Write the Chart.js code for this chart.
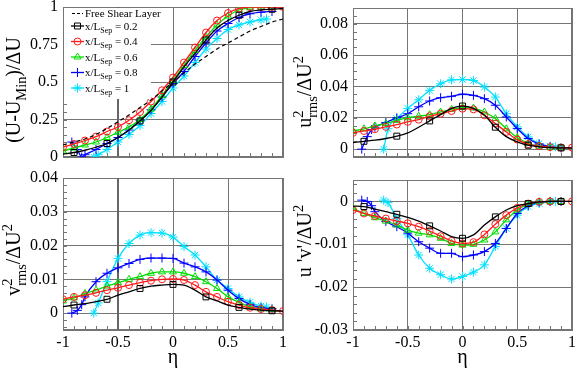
<!DOCTYPE html>
<html>
<head>
<meta charset="utf-8">
<script src="https://cdn.jsdelivr.net/npm/chart.js@4/dist/chart.umd.min.js"></script>
<style>
body { margin: 0; background: #fff; }
#wrap { position: relative; width: 581px; height: 368px; }
canvas { position: absolute; }
</style>
</head>
<body>
<div id="wrap">
  <canvas id="cU" width="290" height="170" style="left:0;top:0"></canvas>
  <canvas id="cUU" width="291" height="170" style="left:290px;top:0"></canvas>
  <canvas id="cVV" width="290" height="198" style="left:0;top:170px"></canvas>
  <canvas id="cUV" width="291" height="198" style="left:290px;top:170px"></canvas>
</div>
<script>
// eta positions
const eta = [-1, -0.9, -0.8, -0.7, -0.6, -0.5, -0.4, -0.3, -0.2, -0.1, 0, 0.1, 0.2, 0.3, 0.4, 0.5, 0.6, 0.7, 0.8, 0.9, 1];
const etaBlue = [-0.92, -0.87, -0.83, -0.8, -0.7, -0.6, -0.5, -0.4, -0.3, -0.2, -0.1, 0, 0.1, 0.2, 0.3, 0.4, 0.5, 0.6, 0.7, 0.8, 0.9];
const etaCyan = [-0.72, -0.68, -0.6, -0.5, -0.4, -0.3, -0.2, -0.1, 0, 0.1, 0.2, 0.3, 0.4, 0.5, 0.6, 0.7, 0.8, 0.85];

// (U-Umin)/dU
const uShear = [0.08, 0.10, 0.12, 0.15, 0.19, 0.235, 0.28, 0.33, 0.38, 0.44, 0.5, 0.56, 0.62, 0.67, 0.72, 0.76, 0.80, 0.84, 0.87, 0.90, 0.92];
const uBlack = [0.02, 0.03, 0.045, 0.065, 0.09, 0.13, 0.18, 0.24, 0.31, 0.40, 0.50, 0.60, 0.69, 0.78, 0.86, 0.91, 0.945, 0.97, 0.98, 0.985, 0.99];
const uRed = [0.065, 0.087, 0.11, 0.136, 0.17, 0.2, 0.245, 0.3, 0.37, 0.445, 0.53, 0.63, 0.73, 0.83, 0.91, 0.96, 0.99, 1.0, 1.0, 1.0, 1.0];
const uGreen = [0.04, 0.06, 0.08, 0.10, 0.13, 0.165, 0.2, 0.25, 0.32, 0.41, 0.51, 0.61, 0.71, 0.80, 0.88, 0.94, 0.98, 0.995, 1.0, 1.0, null];
const uBlue = [0.10, 0.05, 0.0, 0.015, 0.05, 0.09, 0.13, 0.18, 0.245, 0.315, 0.40, 0.49, 0.57, 0.67, 0.76, 0.84, 0.89, 0.93, 0.955, 0.965, 0.97];
const uCyan = [0.0, 0.015, 0.05, 0.10, 0.15, 0.21, 0.29, 0.37, 0.46, 0.54, 0.63, 0.72, 0.79, 0.85, 0.88, 0.90, 0.915, 0.92];

// u2rms/dU2
const uuBlack = [0.0042, 0.005, 0.0057, 0.0068, 0.0083, 0.0104, 0.014, 0.018, 0.022, 0.026, 0.0275, 0.026, 0.0216, 0.014, 0.008, 0.0047, 0.0025, 0.0015, 0.001, 0.0008, 0.0007];
const uuRed = [0.0104, 0.0116, 0.0127, 0.0142, 0.0157, 0.0174, 0.0188, 0.021, 0.0226, 0.0243, 0.0258, 0.0254, 0.0216, 0.0163, 0.011, 0.0061, 0.0032, 0.0019, 0.0013, 0.001, 0.001];
const uuGreen = [0.0116, 0.013, 0.0148, 0.0163, 0.0184, 0.02, 0.021, 0.022, 0.0237, 0.0254, 0.0265, 0.0262, 0.0237, 0.0195, 0.013, 0.0074, 0.0036, 0.0019, 0.001, 0.0008, null];
const uuBlue = [0, 0.008, 0.0125, 0.014, 0.017, 0.02, 0.0226, 0.027, 0.0307, 0.0328, 0.0337, 0.035, 0.0343, 0.0322, 0.028, 0.0205, 0.0131, 0.0068, 0.0032, 0.0015, 0.0008];
const uuCyan = [0, 0.013, 0.0195, 0.026, 0.0315, 0.0375, 0.0417, 0.0442, 0.0444, 0.0438, 0.0396, 0.0332, 0.0226, 0.0142, 0.0078, 0.0036, 0.0019, 0.0015];

// v2rms/dU2
const vvBlack = [0.0019, 0.0024, 0.0028, 0.0034, 0.0041, 0.0053, 0.0063, 0.0073, 0.008, 0.0083, 0.0085, 0.0083, 0.0068, 0.0048, 0.0036, 0.0024, 0.0017, 0.0012, 0.0009, 0.0007, 0.0006];
const vvRed = [0.0041, 0.0048, 0.0053, 0.006, 0.0068, 0.0075, 0.0083, 0.009, 0.0096, 0.01, 0.0101, 0.0098, 0.0083, 0.0063, 0.0048, 0.0034, 0.0024, 0.0016, 0.0012, 0.0009, 0.0006];
const vvGreen = [0.0036, 0.0045, 0.0058, 0.0068, 0.008, 0.009, 0.01, 0.0108, 0.0118, 0.0122, 0.0122, 0.0118, 0.0108, 0.0093, 0.0073, 0.0048, 0.0032, 0.0019, 0.0012, 0.001, null];
const vvBlue = [0, 0.0008, 0.0025, 0.0048, 0.0093, 0.0118, 0.0134, 0.0147, 0.0159, 0.0163, 0.0163, 0.0162, 0.0148, 0.0137, 0.0122, 0.0098, 0.0068, 0.0043, 0.0026, 0.0016, 0.0013];
const vvCyan = [0, 0.003, 0.0093, 0.0162, 0.0206, 0.0231, 0.0238, 0.0237, 0.0225, 0.0197, 0.0172, 0.0137, 0.0098, 0.0073, 0.0048, 0.0032, 0.0021, 0.0018];

// u'v'/dU2
const uvBlack = [-0.0011, -0.0012, -0.0018, -0.0024, -0.003, -0.0037, -0.0046, -0.0057, -0.0069, -0.0082, -0.0086, -0.0078, -0.0055, -0.0036, -0.002, -0.001, -0.0005, -0.0001, 0, 0, 0];
const uvRed = [-0.002, -0.0028, -0.0034, -0.004, -0.0046, -0.0051, -0.0059, -0.0069, -0.0081, -0.0092, -0.0098, -0.0095, -0.0077, -0.0053, -0.0032, -0.0015, -0.0005, -0.0001, 0, 0, 0];
const uvGreen = [-0.0016, -0.0028, -0.0038, -0.0046, -0.0055, -0.0067, -0.0074, -0.0078, -0.0086, -0.0098, -0.0102, -0.01, -0.009, -0.0071, -0.0043, -0.002, -0.0007, -0.0001, 0, 0, null];
const uvBlue = [0.0003, 0, -0.001, -0.0024, -0.0047, -0.0059, -0.0074, -0.0094, -0.0109, -0.0121, -0.0121, -0.0129, -0.0125, -0.0117, -0.0098, -0.0063, -0.0028, -0.001, -0.0002, 0, 0];
const uvCyan = [0.0003, -0.0003, -0.004, -0.0078, -0.0125, -0.0156, -0.0171, -0.0181, -0.0175, -0.0165, -0.0148, -0.0105, -0.0063, -0.0032, -0.0012, -0.0005, -0.0001, 0];

const seriesNames = ['0.2', '0.4', '0.6', '0.8', '1'];

const FONT = '"Liberation Serif", "Times New Roman", serif';
const GRID = '#757575';
const SERIES = [
  { color: '#000000', style: 'rect', r: 4.2, every: 3, off: 1 },
  { color: '#ff1a1a', style: 'circle', r: 3.5, every: 1, off: 0 },
  { color: '#00dd00', style: 'triangle', r: 4, every: 1, off: 0 },
  { color: '#0000ff', style: 'cross', r: 4.5, every: 1, off: 0 },
  { color: '#00e0ff', style: 'star', r: 4.5, every: 1, off: 0 }
];

Chart.defaults.font.family = FONT;

function pts(xs, ys) {
  return xs.map((x, i) => ({ x: x, y: ys[i] })).filter(p => p.y !== null);
}

function seriesSet(xs, ys, s) {
  return {
    data: pts(xs, ys),
    borderColor: s.color,
    backgroundColor: 'rgba(0,0,0,0)',
    borderWidth: 1.3,
    pointStyle: s.style,
    pointRadius: c => (c.dataIndex % s.every === s.off ? s.r : 0),
    pointBorderColor: s.color,
    pointBackgroundColor: 'rgba(0,0,0,0)',
    pointBorderWidth: 1,
    cubicInterpolationMode: 'monotone',
    fill: false
  };
}

// draw text with sub / superscripts
function drawRich(ctx, parts, x, y, size, rotate) {
  ctx.save();
  ctx.translate(x, y);
  if (rotate) ctx.rotate(-Math.PI / 2);
  let w = 0;
  const segs = parts.map(p => {
    const s = p.k ? size * 0.72 : size;
    ctx.font = s + 'px ' + FONT;
    const m = ctx.measureText(p.t).width;
    const seg = { t: p.t, s: s, dx: w, dy: p.k === 'sub' ? size * 0.3 : p.k === 'sup' ? -size * 0.42 : 0 };
    if (!p.stay) w += m;
    return seg;
  });
  const x0 = rotate ? -w / 2 : 0;
  ctx.fillStyle = '#000';
  ctx.textBaseline = 'alphabetic';
  segs.forEach(sg => {
    ctx.font = sg.s + 'px ' + FONT;
    ctx.fillText(sg.t, x0 + sg.dx, sg.dy);
  });
  ctx.restore();
  return w;
}

function marker(ctx, style, x, y, r) {
  ctx.beginPath();
  if (style === 'rect') {
    const h = r / Math.SQRT2;
    ctx.rect(x - h, y - h, 2 * h, 2 * h);
  } else if (style === 'circle') {
    ctx.arc(x, y, r, 0, Math.PI * 2);
  } else if (style === 'triangle') {
    ctx.moveTo(x, y - r);
    ctx.lineTo(x + r * 0.866, y + r * 0.5);
    ctx.lineTo(x - r * 0.866, y + r * 0.5);
    ctx.closePath();
  } else {
    ctx.moveTo(x - r, y); ctx.lineTo(x + r, y);
    ctx.moveTo(x, y - r); ctx.lineTo(x, y + r);
    if (style === 'star') {
      const d = r * 0.707;
      ctx.moveTo(x - d, y - d); ctx.lineTo(x + d, y + d);
      ctx.moveTo(x - d, y + d); ctx.lineTo(x + d, y - d);
    }
  }
  ctx.stroke();
}

function makePanel(id, cfg) {
  const datasets = [];
  if (cfg.shear) {
    datasets.push({
      data: pts(eta, cfg.shear),
      borderColor: '#000', borderWidth: 1.2, borderDash: [4, 3],
      pointRadius: 0, cubicInterpolationMode: 'monotone', fill: false
    });
  }
  cfg.sets.forEach((pair, i) => datasets.push(seriesSet(pair[0], pair[1], SERIES[i])));

  const decor = {
    id: 'decor',
    beforeDatasetsDraw(chart) {
      const { ctx, chartArea: a, scales: { x, y } } = chart;
      ctx.save();
      ctx.strokeStyle = GRID;
      ctx.lineWidth = 1;
      ctx.beginPath();
      for (let i = 0; i <= 20; i++) {
        const px = Math.round(x.getPixelForValue(-1 + i * 0.1)) + 0.5;
        ctx.moveTo(px, a.bottom);
        ctx.lineTo(px, a.bottom - 4);
      }
      const start = Math.ceil(cfg.yMin / cfg.yMinor - 1e-6);
      for (let k = start; k * cfg.yMinor <= cfg.yMax + 1e-9; k++) {
        const py = Math.round(y.getPixelForValue(k * cfg.yMinor)) + 0.5;
        ctx.moveTo(a.left, py);
        ctx.lineTo(a.left + 4, py);
      }
      ctx.stroke();
      ctx.strokeRect(a.left + 0.5, a.top + 0.5, a.width - 1, a.height - 1);
      if (cfg.vline) {
        const vx = x.getPixelForValue(-0.5);
        ctx.strokeStyle = '#666';
        ctx.lineWidth = 2;
        ctx.beginPath();
        ctx.moveTo(vx, a.top);
        ctx.lineTo(vx, a.bottom);
        ctx.stroke();
      }
      ctx.restore();
    },
    afterDraw(chart) {
      const { ctx, chartArea: a } = chart;
      drawRich(ctx, cfg.title, cfg.titleX, cfg.titleY, 20, true);
      if (cfg.showX) {
        ctx.save();
        ctx.font = '20px ' + FONT;
        ctx.textAlign = 'center';
        ctx.fillStyle = '#000';
        ctx.fillText('η', (a.left + a.right) / 2, a.bottom + 33);
        ctx.restore();
      }
      if (cfg.legend) {
        ctx.save();
        ctx.fillStyle = '#fff';
        ctx.fillRect(a.left + 1, a.top + 1, 87, 91);
        ctx.strokeStyle = '#000';
        ctx.lineWidth = 1;
        ctx.setLineDash([3, 2]);
        ctx.beginPath();
        ctx.moveTo(72, 13.5); ctx.lineTo(83, 13.5);
        ctx.stroke();
        ctx.setLineDash([]);
        drawRich(ctx, [{ t: 'Free Shear Layer' }], 85, 17, 11, false);
        const rows = [26, 41.5, 57, 72.5, 88];
        rows.forEach((ry, i) => {
          const s = SERIES[i];
          ctx.strokeStyle = s.color;
          ctx.lineWidth = 1.3;
          ctx.beginPath();
          ctx.moveTo(71, ry); ctx.lineTo(84, ry);
          ctx.stroke();
          ctx.lineWidth = 1;
          marker(ctx, s.style, 77.5, ry, s.r);
          drawRich(ctx, [{ t: 'x/L' }, { t: 'Sep', k: 'sub' }, { t: ' = ' + seriesNames[i] }], 85, ry + 3.5, 11, false);
        });
        ctx.restore();
      }
    }
  };

  const tickCb = v => String(Math.round(v * 1000) / 1000);

  return new Chart(document.getElementById(id), {
    type: 'line',
    data: { datasets: datasets },
    options: {
      responsive: false,
      animation: false,
      devicePixelRatio: 1,
      layout: { padding: { top: cfg.padTop, right: cfg.padRight, left: 0, bottom: 0 } },
      plugins: { legend: { display: false }, tooltip: { enabled: false } },
      scales: {
        x: {
          type: 'linear', min: -1, max: 1,
          afterFit(s) { s.height = cfg.xh; s.paddingLeft = 0; s.paddingRight = 0; },
          ticks: { stepSize: 0.5, display: cfg.showX, color: '#000', padding: 3, font: { size: 16 }, callback: tickCb, maxRotation: 0 },
          grid: { color: GRID, drawTicks: false },
          border: { color: GRID }
        },
        y: {
          type: 'linear', min: cfg.yMin, max: cfg.yMax,
          afterFit(s) { s.width = 63; s.paddingTop = 0; s.paddingBottom = 0; },
          ticks: { stepSize: cfg.yStep, includeBounds: false, color: '#000', padding: 5, font: { size: 16 }, callback: tickCb },
          grid: { color: GRID, drawTicks: false },
          border: { color: GRID }
        }
      }
    },
    plugins: [decor]
  });
}

makePanel('cU', {
  shear: uShear,
  sets: [[eta, uBlack], [eta, uRed], [eta, uGreen], [etaBlue, uBlue], [etaCyan, uCyan]],
  yMin: 0, yMax: 1, yStep: 0.25, yMinor: 0.05,
  padTop: 7, padRight: 7, xh: 13, showX: false, vline: true, legend: true,
  title: [{ t: '(U-U' }, { t: 'Min', k: 'sub' }, { t: ')/ΔU' }], titleX: 20, titleY: 90
});

makePanel('cUU', {
  sets: [[eta, uuBlack], [eta, uuRed], [eta, uuGreen], [etaBlue, uuBlue], [etaCyan, uuCyan]],
  yMin: -0.005, yMax: 0.09, yStep: 0.02, yMinor: 0.005,
  padTop: 8, padRight: 9, xh: 13, showX: false,
  title: [{ t: 'u' }, { t: '2', k: 'sup', stay: true }, { t: 'rms', k: 'sub' }, { t: '/ΔU' }, { t: '2', k: 'sup' }], titleX: 21, titleY: 92
});

makePanel('cVV', {
  sets: [[eta, vvBlack], [eta, vvRed], [eta, vvGreen], [etaBlue, vvBlue], [etaCyan, vvCyan]],
  yMin: -0.005, yMax: 0.04, yStep: 0.01, yMinor: 0.002,
  padTop: 8, padRight: 7, xh: 38, showX: true, vline: true,
  title: [{ t: 'v' }, { t: '2', k: 'sup', stay: true }, { t: 'rms', k: 'sub' }, { t: '/ΔU' }, { t: '2', k: 'sup' }], titleX: 20, titleY: 90
});

makePanel('cUV', {
  sets: [[eta, uvBlack], [eta, uvRed], [eta, uvGreen], [etaBlue, uvBlue], [etaCyan, uvCyan]],
  yMin: -0.03, yMax: 0.005, yStep: 0.01, yMinor: 0.002,
  padTop: 10, padRight: 9, xh: 38, showX: true,
  title: [{ t: "u 'v'/ΔU" }, { t: '2', k: 'sup' }], titleX: 21, titleY: 71
});
</script>
</body>
</html>
